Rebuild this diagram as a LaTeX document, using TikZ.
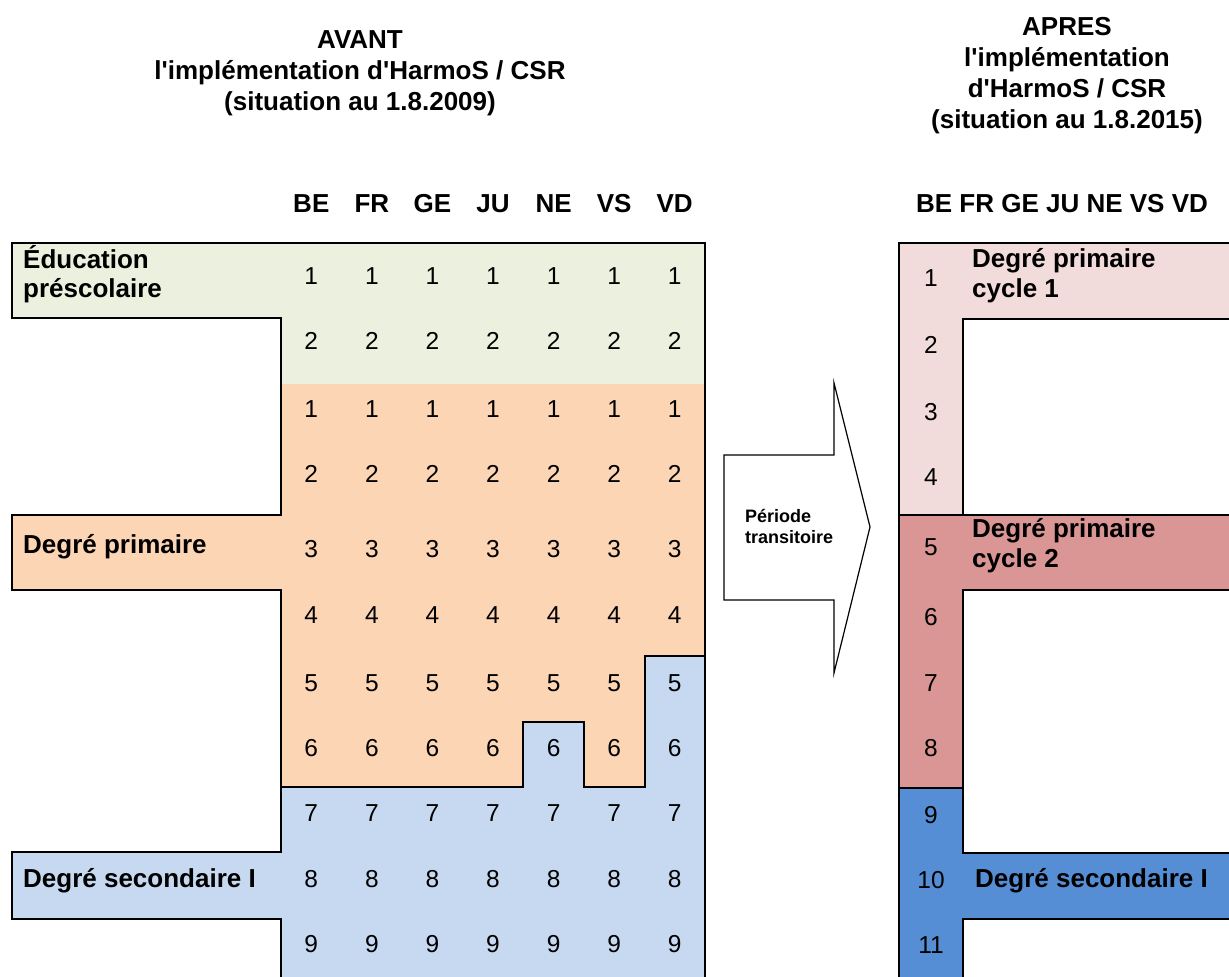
\documentclass[tikz,border=0pt]{standalone}
\usepackage{fontspec}
\setmainfont{Liberation Sans}[Ligatures=TeXOff]
\definecolor{cgreen}{HTML}{EBF1DE}
\definecolor{corange}{HTML}{FCD5B5}
\definecolor{clblue}{HTML}{C6D9F1}
\definecolor{cpink}{HTML}{F2DCDB}
\definecolor{crose}{HTML}{D99694}
\definecolor{cblue}{HTML}{558ED5}
\begin{document}
\begin{tikzpicture}[x=1pt,y=-1pt,
  lbl/.style={font=\bfseries\fontsize{26}{30}\selectfont, inner sep=0pt, anchor=base west},
  small/.style={font=\bfseries\fontsize{18}{21}\selectfont, inner sep=0pt, anchor=base west},
  num/.style={font=\fontsize{24.5}{28}\selectfont, inner sep=0pt, anchor=center},
  hdr/.style={font=\bfseries\fontsize{26}{31}\selectfont, inner sep=0pt, anchor=base},
  border/.style={line width=2.4pt, line join=miter},
  arrowshape/.style={line width=1.2pt, line join=miter, fill=white}
]
\useasboundingbox (0,0) rectangle (1229,977);
\clip (0,0) rectangle (1229,977);

% ---------- left block: fills ----------
\fill[cgreen] (12,243) -- (705,243) -- (705,384) -- (281,384) -- (281,318) -- (12,318) -- cycle;
\fill[corange] (281,384) -- (705,384) -- (705,656) -- (645,656) -- (645,787) -- (584,787) -- (584,722) -- (523,722) -- (523,787) -- (281,787) -- (281,590) -- (12,590) -- (12,515) -- (281,515) -- cycle;
\fill[clblue] (281,787) -- (523,787) -- (523,722) -- (584,722) -- (584,787) -- (645,787) -- (645,656) -- (705,656) -- (705,990) -- (281,990) -- (281,919) -- (12,919) -- (12,852) -- (281,852) -- cycle;

% ---------- left block: outlines ----------
\draw[border] (281,384) -- (281,318) -- (12,318) -- (12,243) -- (705,243) -- (705,384);
\draw[border] (705,384) -- (705,656) -- (645,656) -- (645,787) -- (584,787) -- (584,722) -- (523,722) -- (523,787) -- (281,787) -- (281,590) -- (12,590) -- (12,515) -- (281,515) -- (281,384);
\draw[border] (281,787) -- (523,787) -- (523,722) -- (584,722) -- (584,787) -- (645,787) -- (645,656) -- (705,656) -- (705,990) -- (281,990) -- (281,919) -- (12,919) -- (12,852) -- (281,852) -- cycle;

% ---------- right block ----------
\filldraw[border, fill=cpink] (899,243) -- (1240,243) -- (1240,319) -- (963,319) -- (963,515) -- (899,515) -- cycle;
\filldraw[border, fill=crose] (899,515) -- (1240,515) -- (1240,590) -- (963,590) -- (963,788) -- (899,788) -- cycle;
\filldraw[border, fill=cblue] (899,788) -- (963,788) -- (963,853) -- (1240,853) -- (1240,919) -- (963,919) -- (963,990) -- (899,990) -- cycle;

% ---------- transition arrow ----------
\draw[arrowshape] (724,455) -- (834,455) -- (834,383) -- (870,527) -- (834,673) -- (834,600) -- (724,600) -- cycle;
\node[small] (pa) at (745,522) {Période};
\node[small] (pb) at (745,543) {transitoire};

% ---------- titles ----------
\node[hdr] (la) at (360,48) {AVANT};
\node[hdr] (lb) at (360,79) {l'implémentation d'HarmoS / CSR};
\node[hdr] (lc) at (360,110) {(situation au 1.8.2009)};
\node[hdr] (ra) at (1067,35) {APRES};
\node[hdr] (rb) at (1067,66) {l'implémentation};
\node[hdr] (rc) at (1067,97) {d'HarmoS / CSR};
\node[hdr] (rd) at (1067,128) {(situation au 1.8.2015)};

% ---------- column headers ----------
\foreach \x/\t in {311.3/BE,371.9/FR,432.4/GE,493/JU,553.6/NE,614.1/VS,674.7/VD}
  \node[hdr] (h-\t) at (\x,212) {\t};
\node[hdr] (hr) at (1062,212) {BE FR GE JU NE VS VD};

% ---------- left numbers ----------
\foreach \x [count=\c] in {311.3,371.9,432.4,493,553.6,614.1,674.7}
  \foreach \y/\v [count=\r] in {276/1,341/2,409/1,474/2,549/3,615/4,683/5,748/6,813/7,879/8,944/9}
    \node[num] (n-\c-\r) at (\x,\y) {\v};

% ---------- right numbers ----------
\foreach \y [count=\v] in {278,345,412,477,547,617,683,748,815,880,945}
  \node[num] (m-\v) at (931,\y) {\v};

% ---------- labels ----------
\node[lbl] (l1a) at (23,268) {Éducation};
\node[lbl] (l1b) at (23,297) {préscolaire};
\node[lbl] (l2) at (23,553) {Degré primaire};
\node[lbl] (l3) at (23,887) {Degré secondaire I};
\node[lbl] (r1a) at (972,267) {Degré primaire};
\node[lbl] (r1b) at (972,297) {cycle 1};
\node[lbl] (r2a) at (972,537) {Degré primaire};
\node[lbl] (r2b) at (972,567) {cycle 2};
\node[lbl] (r3) at (975,887) {Degré secondaire I};
\end{tikzpicture}
\end{document}
